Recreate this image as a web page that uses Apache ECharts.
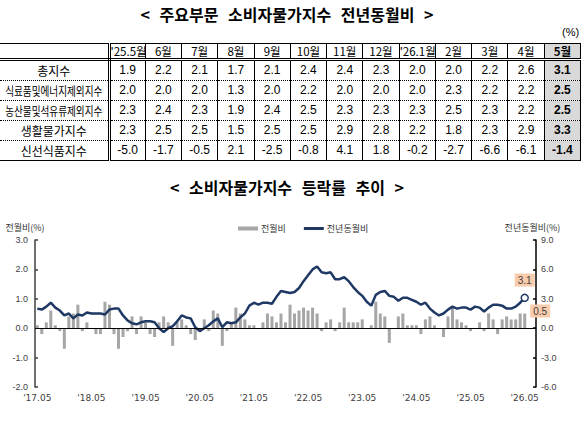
<!DOCTYPE html>
<html>
<head>
<meta charset="utf-8">
<script src="https://cdn.jsdelivr.net/npm/echarts@6/dist/echarts.min.js"></script>
<style>
  html, body { margin: 0; padding: 0; background: #fff; }
  body { width: 588px; height: 427px; position: relative; overflow: hidden; font-family: "Noto Sans CJK KR", sans-serif; color: #000; }
  #chart { position: absolute; left: 0; top: 0; width: 588px; height: 427px; }
  .title { position: absolute; left: 0; width: 574px; text-align: center; font-size: 16px; font-weight: bold; line-height: 22px; word-spacing: 6px; white-space: pre; }
  #unit { position: absolute; left: 562px; top: 26px; font-size: 11px; font-family: "Liberation Sans", sans-serif; }
  #tbl { position: absolute; left: 0; top: 43px; width: 581px; border-collapse: collapse; table-layout: fixed; font-family: "Liberation Sans", sans-serif; font-size: 12px; }
  #tbl th, #tbl td { padding: 0; text-align: center; border-left: 1px solid #000; border-right: 1px solid #000; white-space: nowrap; overflow: hidden; }
  #tbl th { height: 14px; line-height: 14px; font-weight: normal; font-family: "Noto Sans CJK KR", sans-serif; font-size: 11.5px; border-top: 1px solid #000; border-bottom: 3px double #000; }
  #tbl td { height: 19px; line-height: 19px; border-bottom: 1px dotted #000; }
  #tbl tr:last-child td { border-bottom: 1px solid #000; height: 17px; }
  #tbl .lab { border-left: none; border-right: 3px double #000; font-family: "Noto Sans CJK KR", sans-serif; font-size: 12px; }
  #tbl .lab span { display: inline-block; }
  #tbl .cur { background: #d9d9d9; font-weight: bold; }
</style>
</head>
<body>
<div id="chart"></div>
<div class="title" style="top:3px">&lt; 주요부문 소비자물가지수 전년동월비 &gt;</div>
<div id="unit">(%)</div>
<table id="tbl"></table>
<div class="title" style="top:176px">&lt; 소비자물가지수 등락률 추이 &gt;</div>
<script>
// 표 데이터 (전년동월비, %)
const tableHeaders = ["'25.5월", '6월', '7월', '8월', '9월', '10월', '11월', '12월', "'26.1월", '2월', '3월', '4월', '5월'];
const rowLabels = ['총지수', '식료품및에너지제외지수', '농산물및석유류제외지수', '생활물가지수', '신선식품지수'];
const totalIndex = [1.9, 2.2, 2.1, 1.7, 2.1, 2.4, 2.4, 2.3, 2.0, 2.0, 2.2, 2.6, 3.1];
const exFoodEnergy = [2.0, 2.0, 2.0, 1.3, 2.0, 2.2, 2.0, 2.0, 2.0, 2.3, 2.2, 2.2, 2.5];
const exAgriOil = [2.3, 2.4, 2.3, 1.9, 2.4, 2.5, 2.3, 2.3, 2.3, 2.5, 2.3, 2.2, 2.5];
const livingIndex = [2.3, 2.5, 2.5, 1.5, 2.5, 2.5, 2.9, 2.8, 2.2, 1.8, 2.3, 2.9, 3.3];
const freshFood = [-5.0, -1.7, -0.5, 2.1, -2.5, -0.8, 4.1, 1.8, -0.2, -2.7, -6.6, -6.1, -1.4];

// 차트 데이터: '17.05 ~ '26.05 (월별)
const momValues = [
  0.1, -0.2, 0.2, 0.6, 0.1, -0.1, -0.7, 0.4,
  0.5, 0.8, -0.1, 0.2, 0.0, -0.2, -0.2, 0.9, 0.8, -0.2, -0.7, -0.3,
  -0.1, 0.4, -0.2, 0.4, 0.2, -0.2, -0.3, 0.2, 0.4, 0.2, -0.6, 0.2,
  0.3, 0.1, -0.2, -0.4, 0.0, 0.3, -0.1, 0.6, 0.5, -0.6, -0.1, 0.2,
  0.7, 0.5, 0.3, 0.1, 0.1, 0.0, 0.2, 0.5, 0.4, 0.2, 0.5, 0.2,
  0.8, 0.5, 0.6, 0.7, 0.6, 0.7, 0.5, -0.1, 0.2, 0.3, -0.1, 0.2,
  0.7, 0.2, 0.2, 0.2, 0.3, 0.0, 0.1, 0.9, 0.5, 0.4, -0.5, 0.0,
  0.4, 0.5, 0.1, 0.1, 0.1, -0.2, 0.3, 0.4, 0.1, 0.0, -0.3, 0.4,
  0.7, 0.3, 0.2, 0.1, -0.1, 0.0, 0.2, -0.1, 0.5, 0.3, -0.2, 0.3,
  0.4, 0.3, 0.3, 0.5, 0.5
];
const yoyValues = [
  2.0, 1.9, 2.2, 2.6, 2.1, 1.8, 1.3, 1.5,
  1.0, 1.4, 1.3, 1.6, 1.5, 1.5, 1.5, 1.4, 1.9, 2.0, 2.0, 1.3,
  0.8, 0.5, 0.4, 0.6, 0.7, 0.7, 0.6, 0.0, -0.4, 0.0, 0.2, 0.7,
  1.3, 1.1, 1.0, 0.1, -0.3, 0.0, 0.3, 0.7, 1.0, 0.1, 0.6, 0.5,
  0.6, 1.1, 1.5, 2.3, 2.6, 2.4, 2.6, 2.6, 2.5, 3.2, 3.8, 3.7,
  3.6, 3.7, 4.1, 4.8, 5.4, 6.0, 6.3, 5.7, 5.6, 5.7, 5.0, 5.0,
  5.2, 4.8, 4.2, 3.7, 3.3, 2.7, 2.3, 3.4, 3.7, 3.8, 3.3, 3.2,
  2.8, 3.1, 3.1, 2.9, 2.7, 2.4, 2.6, 2.0, 1.6, 1.3, 1.5, 1.9,
  2.2, 2.0, 2.1, 2.1, 1.9, 2.2, 2.1, 1.7, 2.1, 2.4, 2.4, 2.3,
  2.0, 2.0, 2.2, 2.6, 3.1
];
const startYear = 17, startMonth = 5;

// 월 라벨 ('17.05 형식)
const months = momValues.map((_, i) => {
  const m = startMonth - 1 + i;
  const yy = startYear + Math.floor(m / 12);
  const mm = (m % 12) + 1;
  return "'" + yy + '.' + String(mm).padStart(2, '0');
});

// 1. 표 그리기
const tableRows = [totalIndex, exFoodEnergy, exAgriOil, livingIndex, freshFood];
const tbl = document.getElementById('tbl');
let html = '<colgroup><col style="width:109px">' + tableHeaders.map(() => '<col>').join('') + '</colgroup>';
html += '<tr><th class="lab"></th>' + tableHeaders.map((h, i) =>
  '<th' + (i === tableHeaders.length - 1 ? ' class="cur" style="font-weight:bold"' : '') + '>' + h + '</th>').join('') + '</tr>';
tableRows.forEach((row, r) => {
  const lab = rowLabels[r];
  const sx = lab.length > 8 ? 'transform:scaleX(0.8);margin:0 -12px' : '';
  html += '<tr><td class="lab"><span style="' + sx + '">' + lab + '</span></td>' +
    row.map((v, i) => '<td' + (i === row.length - 1 ? ' class="cur"' : '') + '>' + v.toFixed(1) + '</td>').join('') + '</tr>';
});
tbl.innerHTML = html;

// 2. 차트 그리기
const navy = '#1f3864';
const boxLabel = {
  show: true,
  backgroundColor: '#f8cbad',
  color: '#404040',
  fontSize: 10,
  fontFamily: 'Liberation Sans',
  padding: [2, 3, 1, 3]
};
const last = momValues.length - 1;

const chart = echarts.init(document.getElementById('chart'), null, { renderer: 'svg' });
chart.setOption({
  animation: false,
  legend: {
    left: 233,
    top: 219,
    itemWidth: 20,
    itemHeight: 4,
    itemGap: 18,
    textStyle: { fontSize: 9, color: '#333', fontFamily: 'Noto Sans CJK KR', padding: [0, 0, 0, -2] },
    data: [
      { name: '전월비', icon: 'rect' },
      { name: '전년동월비', icon: 'path://M0,0 H20 V3 H0 Z' }
    ]
  },
  grid: { left: 35, right: 52, top: 240, bottom: 40 },
  xAxis: {
    type: 'category',
    data: months.concat(['', '']),
    boundaryGap: true,
    axisLine: { show: false, onZero: false },
    axisTick: { show: false },
    axisLabel: { interval: 11, fontSize: 9, color: '#404040', fontFamily: 'DejaVu Sans', margin: 6 }
  },
  yAxis: [
    {
      type: 'value',
      min: -2, max: 3, interval: 1,
      position: 'left',
      name: '전월비(%)',
      nameLocation: 'end',
      nameGap: 8,
      nameTextStyle: { fontSize: 9, color: '#333', fontFamily: 'Noto Sans CJK KR', padding: [0, 20, 0, 0] },
      axisLine: { show: true, lineStyle: { color: '#404040', width: 1.5 } },
      axisTick: { show: true, inside: true, length: 3, lineStyle: { color: '#404040', width: 1.5 } },
      splitLine: { show: false },
      axisLabel: { formatter: v => v.toFixed(1), fontSize: 9, color: '#404040', fontFamily: 'Liberation Sans', margin: 7 }
    },
    {
      type: 'value',
      min: -6, max: 9, interval: 3,
      position: 'right',
      name: '전년동월비(%)',
      nameLocation: 'end',
      nameGap: 8,
      nameTextStyle: { fontSize: 9, color: '#333', fontFamily: 'Noto Sans CJK KR', padding: [0, 7, 0, 0] },
      axisLine: { show: true, lineStyle: { color: '#000', width: 1.5 } },
      axisTick: { show: true, inside: true, length: 3, lineStyle: { color: '#000', width: 1.5 } },
      splitLine: { show: false },
      axisLabel: { formatter: v => v.toFixed(1), fontSize: 9, color: '#404040', fontFamily: 'Liberation Sans', margin: 5 }
    }
  ],
  series: [
    {
      name: '전월비',
      type: 'bar',
      yAxisIndex: 0,
      barWidth: 3,
      itemStyle: { color: '#a6a6a6' },
      data: momValues.map((v, i) => i === last
        ? { value: v, label: Object.assign({}, boxLabel, { position: [7, -9] }) }
        : v),
      markLine: {
        silent: true,
        symbol: 'none',
        label: { show: false },
        lineStyle: { color: '#000', width: 1.2, type: 'solid' },
        data: [{ yAxis: 0 }]
      },
      z: 2
    },
    {
      name: '전년동월비',
      type: 'line',
      yAxisIndex: 1,
      symbol: 'none',
      lineStyle: { color: navy, width: 2.5 },
      itemStyle: { color: navy },
      data: yoyValues.map((v, i) => i === last
        ? {
            value: v,
            symbol: 'circle',
            symbolSize: 7,
            itemStyle: { color: '#fff', borderColor: navy, borderWidth: 1.5 },
            label: Object.assign({}, boxLabel, { position: 'top', distance: 7 })
          }
        : v),
      z: 3
    }
  ]
});
</script>
</body>
</html>
